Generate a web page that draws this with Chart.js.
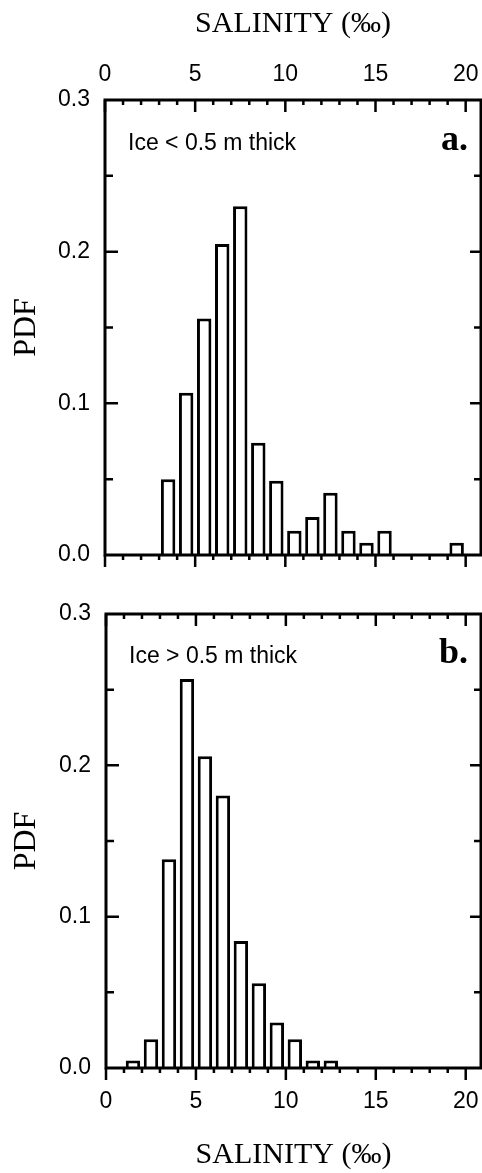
<!DOCTYPE html>
<html lang="en">
<head>
    <meta charset="UTF-8">
    <title>Salinity PDF</title>
    <script src="https://cdn.jsdelivr.net/npm/chart.js"></script>
    <style>
        body {
            margin: 0;
            background: #ffffff;
        }
        .panel {
            position: absolute;
            left: 0;
        }
    </style>
</head>
<body>

    <canvas id="thinChart" class="panel" width="482" height="590" style="top:0px"></canvas>
    <canvas id="thickChart" class="panel" width="482" height="583" style="top:590px"></canvas>

    <script>
        // salinity bins (centre of each 1 ‰ bin)
        const salinityBins = [0.5, 1.5, 2.5, 3.5, 4.5, 5.5, 6.5, 7.5, 8.5, 9.5,
                              10.5, 11.5, 12.5, 13.5, 14.5, 15.5, 16.5, 17.5, 18.5, 19.5];

        // PDF, ice thinner than 0.5 m
        const pdfThin = [0, 0, 0, 0.050, 0.107, 0.156, 0.205, 0.230, 0.074, 0.049,
                         0.016, 0.025, 0.041, 0.016, 0.008, 0.016, 0, 0, 0, 0.008];

        // PDF, ice thicker than 0.5 m
        const pdfThick = [0, 0.005, 0.019, 0.138, 0.257, 0.206, 0.180, 0.084, 0.056, 0.030,
                          0.019, 0.005, 0.005, 0, 0, 0, 0, 0, 0, 0];

        const xTickValues = [0, 5, 10, 15, 20];
        const yTickValues = [0, 0.1, 0.2, 0.3];

        const sansFont = "'Liberation Sans', Arial, sans-serif";
        const serifFont = "'Liberation Serif', 'Times New Roman', serif";

        Chart.defaults.color = '#000';

        // frame, tick marks and panel labels
        const framePlugin = {
            id: 'frame',
            afterDatasetsDraw(chart, args, opts) {
                const ctx = chart.ctx;
                const a = chart.chartArea;
                const x = chart.scales.x;
                const y = chart.scales.y;
                ctx.save();
                ctx.strokeStyle = '#000';
                ctx.lineWidth = 3;
                ctx.strokeRect(a.left, a.top, a.right - a.left, a.bottom - a.top);

                ctx.lineWidth = 2.5;
                ctx.beginPath();
                // x ticks: inward on top, outward at the bottom
                for (let i = 0; i <= 20; i++) {
                    const px = x.getPixelForValue(i);
                    const len = i % 5 === 0 ? 12 : 5;
                    ctx.moveTo(px, a.top);
                    ctx.lineTo(px, a.top + len);
                    ctx.moveTo(px, a.bottom);
                    ctx.lineTo(px, a.bottom + len);
                }
                // y ticks every 0.05, inward on both sides
                for (let j = 1; j < 6; j++) {
                    const py = y.getPixelForValue(j * 0.05);
                    const major = j % 2 === 0;
                    ctx.moveTo(a.left, py);
                    ctx.lineTo(a.left + (major ? 13 : 8), py);
                    ctx.moveTo(a.right, py);
                    ctx.lineTo(a.right - (major ? 11 : 7), py);
                }
                ctx.stroke();

                ctx.fillStyle = '#000';
                ctx.textBaseline = 'alphabetic';
                ctx.textAlign = 'left';
                ctx.font = '23px ' + sansFont;
                ctx.fillText(opts.label, a.left + 23, a.top + opts.labelBase);
                ctx.textAlign = 'right';
                ctx.font = 'bold 36px ' + serifFont;
                ctx.fillText(opts.tag, a.right - 13, a.top + opts.labelBase);
                ctx.restore();
            }
        };

        function initializeChart(canvasId, values, cfg) {
            const ctx = document.getElementById(canvasId).getContext('2d');
            return new Chart(ctx, {
                type: 'bar',
                data: {
                    datasets: [{
                        data: salinityBins.map((s, i) => ({ x: s, y: values[i] })),
                        backgroundColor: '#ffffff',
                        borderColor: '#000000',
                        borderWidth: 3,
                        barPercentage: 0.8,
                        categoryPercentage: 1.0
                    }]
                },
                options: {
                    responsive: false,
                    animation: false,
                    devicePixelRatio: 1,
                    layout: { padding: cfg.padding },
                    plugins: {
                        legend: { display: false },
                        tooltip: { enabled: false },
                        frame: { label: cfg.label, tag: cfg.tag, labelBase: cfg.labelBase }
                    },
                    scales: {
                        x: {
                            type: 'linear',
                            position: cfg.xPos,
                            offset: false,
                            min: 0,
                            max: 20.85,
                            grid: { display: false, drawTicks: false },
                            border: { display: false },
                            afterBuildTicks: s => { s.ticks = xTickValues.map(v => ({ value: v })); },
                            afterFit: s => {
                                s.height = cfg.xHeight;
                                s.paddingLeft = 0;
                                s.paddingRight = 0;
                            },
                            ticks: {
                                autoSkip: false,
                                maxRotation: 0,
                                padding: cfg.xPad,
                                font: { family: sansFont, size: 23 },
                                color: '#000'
                            },
                            title: {
                                display: true,
                                text: 'SALINITY (‰)',
                                font: { family: serifFont, size: 30 },
                                padding: cfg.titlePad,
                                color: '#000'
                            }
                        },
                        y: {
                            min: 0,
                            max: 0.3,
                            grid: { display: false, drawTicks: false },
                            border: { display: false },
                            afterBuildTicks: s => { s.ticks = yTickValues.map(v => ({ value: v })); },
                            afterFit: s => {
                                s.width = cfg.yWidth;
                                s.paddingTop = 0;
                                s.paddingBottom = 0;
                            },
                            ticks: {
                                padding: 15,
                                font: { family: sansFont, size: 23 },
                                color: '#000',
                                callback: v => v.toFixed(1)
                            },
                            title: {
                                display: true,
                                text: 'PDF',
                                font: { family: serifFont, size: 32 },
                                padding: { top: 7, bottom: 0 },
                                color: '#000'
                            }
                        }
                    }
                },
                plugins: [framePlugin]
            });
        }

        initializeChart('thinChart', pdfThin, {
            xPos: 'top',
            xHeight: 100,
            yWidth: 105,
            xPad: 12,
            titlePad: { top: 6, bottom: 0 },
            padding: { top: 0, right: 1, bottom: 35, left: 0 },
            label: 'Ice < 0.5 m thick',
            tag: 'a.',
            labelBase: 50
        });

        initializeChart('thickChart', pdfThick, {
            xPos: 'bottom',
            xHeight: 105,
            yWidth: 106,
            xPad: 20,
            titlePad: { top: 0, bottom: 0 },
            padding: { top: 24, right: 1, bottom: 0, left: 0 },
            label: 'Ice > 0.5 m thick',
            tag: 'b.',
            labelBase: 49
        });
    </script>

</body>
</html>
